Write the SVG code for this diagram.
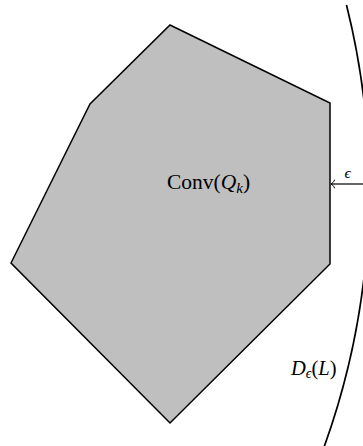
<svg xmlns="http://www.w3.org/2000/svg" width="363" height="446" viewBox="0 0 363 446">
<style>
.lbl{font-family:"Liberation Serif","DejaVu Serif",serif;fill:#000}
.it{font-style:italic}
.edge{stroke:#000;fill:none}
</style>
<defs>
<marker id="tip" markerUnits="userSpaceOnUse" markerWidth="10" markerHeight="10" refX="0" refY="0" orient="auto" overflow="visible">
<path d="M-3.5,-4 C-2.6,-1.6 -1.2,-0.5 0,0 C-1.2,0.5 -2.6,1.6 -3.5,4" stroke="#000" stroke-width="1" fill="none" stroke-linecap="round"/>
</marker>
</defs>
<rect width="363" height="446" fill="#fff"/>
<g id="conv">
<polygon points="170,25 330,103 330,264 170,423 11,263 90,104" fill="#bfbfbf" stroke="#000" stroke-width="1.5" stroke-linejoin="miter"/>
<text class="lbl" x="167" y="189" font-size="21.5">Conv(<tspan class="it">Q</tspan><tspan class="it" font-size="15" dy="4">k</tspan><tspan dy="-4">)</tspan></text>
</g>
<g id="disk">
<path class="edge" d="M346.5,5 A760,760 0 0 1 323,450" stroke-width="1.7"/>
<text class="lbl" x="291" y="375" font-size="20.5"><tspan class="it">D</tspan><tspan class="it" font-size="14" dy="3">ϵ</tspan><tspan dy="-3">(</tspan><tspan class="it">L</tspan>)</text>
</g>
<g id="connectors">
<line class="edge" x1="363" y1="184" x2="331" y2="184" stroke-width="1.2" marker-end="url(#tip)"/>
<text class="lbl it" x="347.7" y="178" font-size="15.5" text-anchor="middle">ϵ</text>
</g>
</svg>
